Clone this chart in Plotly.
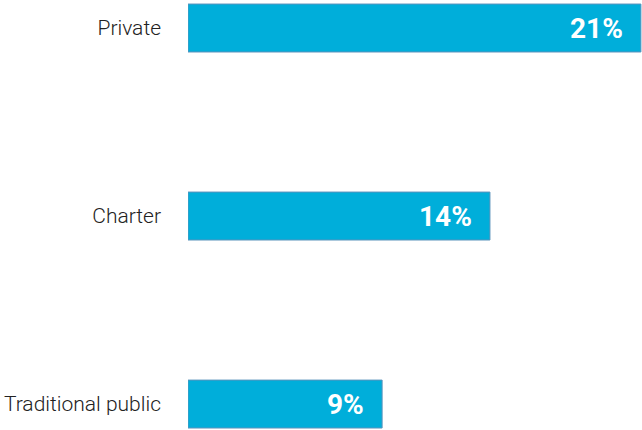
import plotly.graph_objects as go

# school types, bottom to top
categories = ["Traditional public", "Charter", "Private"]
values = [9, 14, 21]
value_labels = ["9%", "14%", "21%"]

bar_color = "#00AEDA"
edge_color = "#5B93BC"

fig = go.Figure()
fig.add_trace(go.Bar(
    x=values,
    y=categories,
    orientation="h",
    width=0.255,
    marker=dict(color=bar_color, line=dict(color=edge_color, width=1)),
    hoverinfo="skip",
))

for cat, val, lab in zip(categories, values, value_labels):
    fig.add_annotation(
        x=val, y=cat, text=lab, showarrow=False,
        xanchor="right", yanchor="middle", xshift=-16,
        font=dict(family="Roboto", size=28, color="white", weight="bold"),
    )

fig.update_layout(
    width=642, height=430,
    margin=dict(l=188, r=0, t=0, b=0),
    paper_bgcolor="white",
    plot_bgcolor="white",
    showlegend=False,
    font=dict(family="Roboto", color="#222222"),
)
fig.update_xaxes(range=[0, 21.05], visible=False, fixedrange=True)
fig.update_yaxes(
    range=[-0.138, 2.149],
    showgrid=False, zeroline=False, showline=False,
    ticks="", ticklabelstandoff=26,
    tickfont=dict(family="Roboto", size=21, color="#222222", weight=300),
    fixedrange=True,
)

# drop the default page margin so the chart fills the window
fig.write_html("out.html", post_script="document.body.style.margin='0';",
               config={"displayModeBar": False})
